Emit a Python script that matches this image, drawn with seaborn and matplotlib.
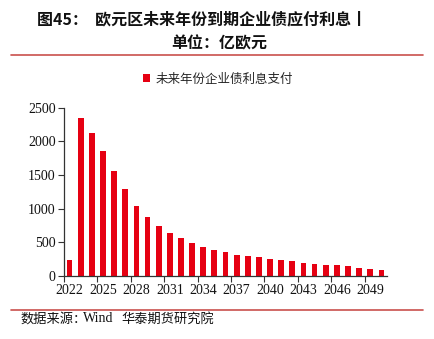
import matplotlib
matplotlib.use("Agg")
import matplotlib.pyplot as plt
import seaborn as sns
import pandas as pd
from matplotlib.lines import Line2D
from matplotlib.ticker import FixedLocator

years = list(range(2022, 2051))
interest = [234, 2342, 2119, 1851, 1558, 1290, 1037, 869, 735, 635, 561, 482, 427, 387,
            348, 308, 293, 274, 248, 234, 214, 193, 174, 159, 159, 140, 119, 100, 80]
series_name = "未来年份企业债利息支付"
title_line1 = "图45：  欧元区未来年份到期企业债应付利息丨"
title_line2 = "单位：亿欧元"
source_parts = ["数据来源：", "Wind", "华泰期货研究院"]
yticks = [0, 500, 1000, 1500, 2000, 2500]

sns.set_theme(style="white")
plt.rcParams['font.family'] = ['Noto Sans CJK SC', 'DejaVu Sans']

df = pd.DataFrame({"year": [str(y) for y in years], "value": interest})

fig = plt.figure(figsize=(4.35, 3.39), dpi=100)
ax = fig.add_axes([64/435, 63.3/339, 323/435, 168/339])

red = "#E60012"
sns.barplot(data=df, x="year", y="value", color=red, width=0.52, ax=ax,
            label=series_name, saturation=1, linewidth=0, edgecolor=red)

ax.set_xlim(-0.5, len(years) - 0.5)
ax.set_ylim(0, 2500)
ax.set_yticks(yticks)
ax.set_xlabel("")
ax.set_ylabel("")

label_pos = list(range(0, len(years), 3))
ax.set_xticks(label_pos)
ax.set_xticklabels([str(years[i]) for i in label_pos])
ax.xaxis.set_minor_locator(FixedLocator([p - 0.5 for p in label_pos]))
ax.tick_params(axis="x", which="major", length=0, pad=6)
ax.tick_params(axis="x", which="minor", length=4, width=0.8, color="#333333", direction="out", bottom=True)
ax.tick_params(axis="y", which="major", length=4, width=0.8, color="#333333", direction="out", left=True, pad=2)
ax.tick_params(axis="both", which="major", labelsize=10, labelcolor="#111111",
               labelfontfamily="Liberation Serif")

for s in ["top", "right"]:
    ax.spines[s].set_visible(False)
for s in ["left", "bottom"]:
    ax.spines[s].set_color("#333333")
    ax.spines[s].set_linewidth(0.9)

handles, labels = ax.get_legend_handles_labels()
if ax.get_legend() is not None:
    ax.get_legend().remove()
fig.legend(handles, labels, loc="center", bbox_to_anchor=(218/435, 1 - 79/339),
           frameon=False, fontsize=9, handlelength=0.6, handleheight=0.6,
           handletextpad=0.4, borderaxespad=0)

fig.text(37/435, 1 - 19/339, title_line1, ha="left", va="center", fontsize=11.5,
         fontweight="bold", color="#111111")
fig.text(219/435, 1 - 43/339, title_line2, ha="center", va="center", fontsize=11.5,
         fontweight="bold", color="#111111")

line_color = "#C9504D"
fig.add_artist(Line2D([11/435, 423/435], [1 - 55/339, 1 - 55/339], color=line_color, lw=1.2,
                      transform=fig.transFigure))
fig.add_artist(Line2D([11/435, 423/435], [1 - 310/339, 1 - 310/339], color=line_color, lw=1.2,
                      transform=fig.transFigure))

fig.text(20/435, 1 - 319/339, source_parts[0], ha="left", va="center", fontsize=9.5,
         color="#111111", family=['Noto Sans CJK SC', 'DejaVu Sans'])
fig.text(83/435, 1 - 318/339, source_parts[1], ha="left", va="center", fontsize=10,
         color="#111111", family="Liberation Serif")
fig.text(121/435, 1 - 319/339, source_parts[2], ha="left", va="center", fontsize=9.5,
         color="#111111", family=['Noto Sans CJK SC', 'DejaVu Sans'])

fig.savefig("out.png", dpi=100)
